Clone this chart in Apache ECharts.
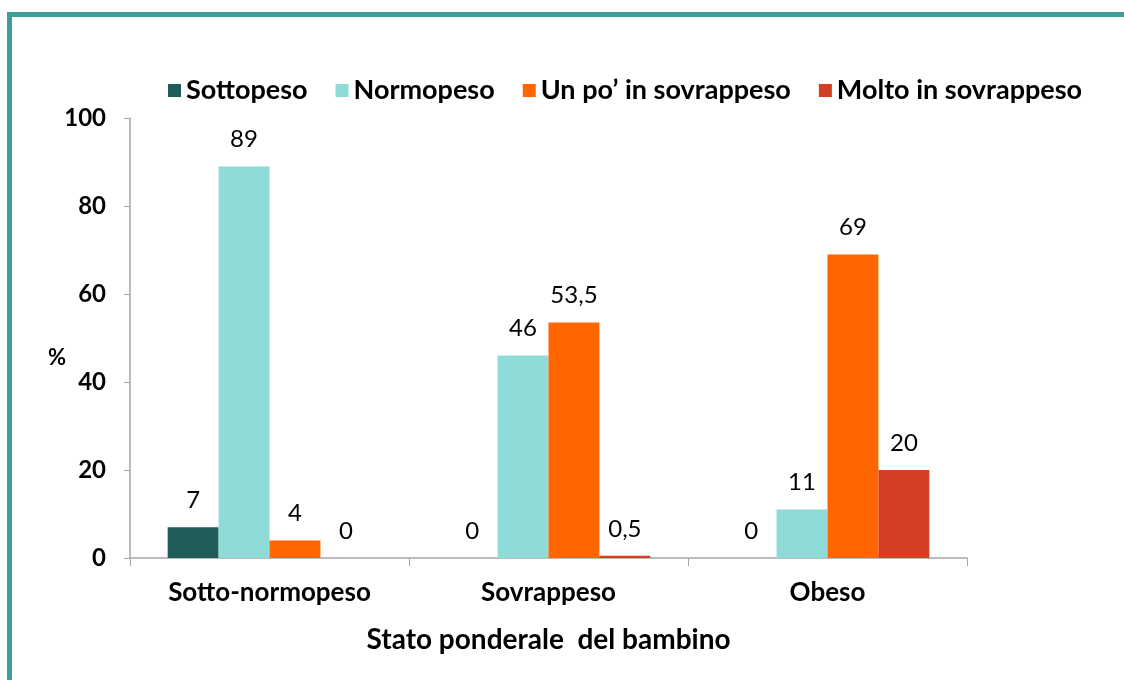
<!DOCTYPE html>
<html><head><meta charset="utf-8">
<script src="https://cdn.jsdelivr.net/npm/echarts@6/dist/echarts.min.js"></script>
<style>html,body{margin:0;padding:0;background:#fff}#c{width:1124px;height:680px}</style>
</head><body><div id="c"></div>
<script>
const categories = ['Sotto-normopeso', 'Sovrappeso', 'Obeso'];
const seriesNames = ['Sottopeso', 'Normopeso', 'Un po\u2019 in sovrappeso', 'Molto in sovrappeso'];
const sottopeso = [7, 0, 0];
const normopeso = [89, 46, 11];
const unPoSovrappeso = [4, 53.5, 69];
const moltoSovrappeso = [0, 0.5, 20];
const colors = ['#1f5c5a', '#8fdbd8', '#ff6600', '#d33f22'];
const yTicks = [0, 20, 40, 60, 80, 100];

const font = 'Lato, "Open Sans", sans-serif';
const chart = echarts.init(document.getElementById('c'));
const dataSets = [sottopeso, normopeso, unPoSovrappeso, moltoSovrappeso];
chart.setOption({
  animation: false,
  textStyle: { fontFamily: font },
  graphic: [{
    type: 'rect', shape: { x: 9.5, y: 14.5, width: 1200, height: 800 },
    style: { fill: 'none', stroke: '#3d9e98', lineWidth: 5 }, z: 100
  }, {
    type: 'text', left: 48, top: 347,
    style: { text: '%', fontSize: 22, fontWeight: 'bold', fill: '#000', fontFamily: font }
  }],
  legend: {
    left: 163, top: 72, itemWidth: 13, itemHeight: 13, itemGap: 28,
    icon: 'rect',
    textStyle: { fontSize: 27, fontWeight: 'bold', color: '#000', fontFamily: font },
    data: seriesNames
  },
  grid: { left: 130, right: 157, top: 118, bottom: 122 },
  xAxis: {
    type: 'category', data: categories,
    name: 'Stato ponderale  del bambino', nameLocation: 'middle', nameGap: 68,
    nameTextStyle: { fontSize: 28, fontWeight: 'bold', color: '#000', fontFamily: font },
    axisLine: { lineStyle: { color: '#a6a6a6', width: 1.5 } },
    axisTick: { show: true, length: 8, lineStyle: { color: '#a6a6a6' } },
    axisLabel: { fontSize: 26, fontWeight: 'bold', color: '#000', margin: 22, fontFamily: font }
  },
  yAxis: {
    type: 'value', min: 0, max: 100, interval: 20,
    axisLine: { show: true, lineStyle: { color: '#a6a6a6', width: 1.5 } },
    axisTick: { show: true, length: 6, inside: false, lineStyle: { color: '#a6a6a6' } },
    splitLine: { show: false },
    axisLabel: { fontSize: 24, fontWeight: 'bold', color: '#000', margin: 24, fontFamily: font,
      formatter: v => yTicks.includes(v) ? String(v) : '' }
  },
  series: dataSets.map((d, i) => ({
    name: seriesNames[i], type: 'bar', data: d,
    barGap: '0%', barCategoryGap: '27%',
    itemStyle: { color: colors[i] },
    label: { show: true, position: 'top', distance: 15, fontSize: 24, color: '#000', fontFamily: font,
      formatter: p => String(p.value).replace('.', ',') }
  }))
});
</script></body></html>
